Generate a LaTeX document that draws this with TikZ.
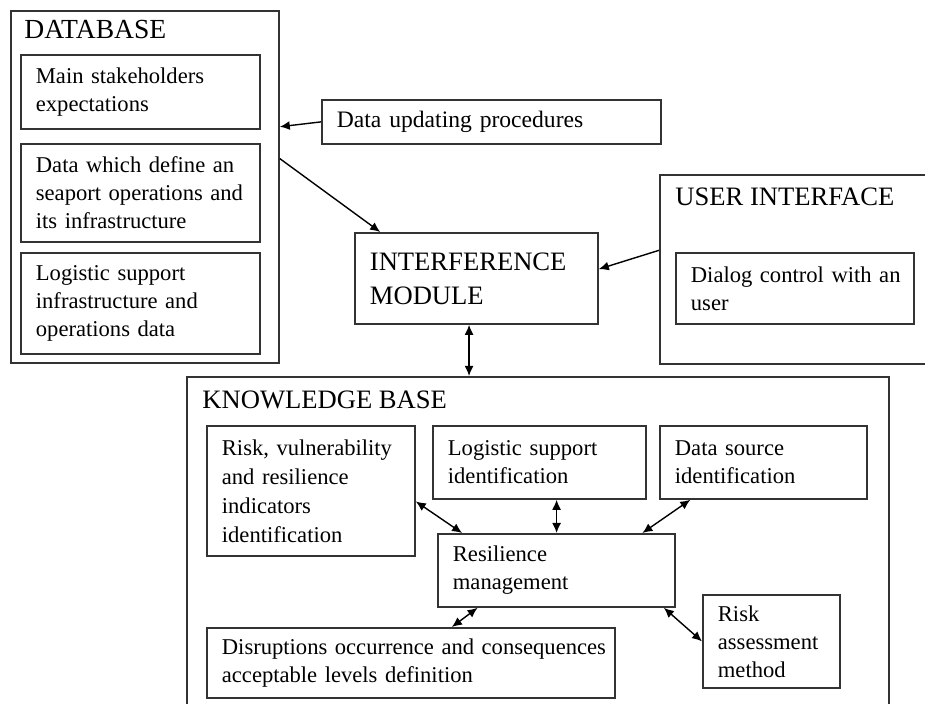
\documentclass[tikz,border=0pt]{standalone}
\usepackage{fontspec}
\setmainfont{Liberation Serif}
\usetikzlibrary{calc,arrows.meta}

\begin{document}
\begin{tikzpicture}[x=0.5pt,y=-0.5pt,>={Latex[length=5pt,width=4.5pt]},
   frame/.style={draw=black!80,line width=0.9pt,anchor=north west,inner sep=0pt},
   blk/.style={draw=black!80,line width=0.9pt,anchor=north west,align=left,
      inner xsep=7.5pt,inner ysep=0pt,font=\fontsize{11.3}{14}\selectfont,
      execute at begin node={\rightskip=-40pt plus 1fil\relax}},
   head/.style={anchor=base west,inner sep=0pt,font=\fontsize{13.3}{17}\selectfont},
   link/.style={<->,line width=0.7pt}]
\useasboundingbox (0,0) rectangle (925,704);

% database
\node[frame,minimum width=134pt,minimum height=176pt] (db) at (10,10) {};
\node[head,font=\fontsize{13.8}{17}\selectfont] (dbtitle) at (24,39) {DATABASE};
\node[blk,text width=104.5pt,minimum height=37pt] (stake) at (20,54)
   {Main stakeholders\\expectations};
\node[blk,text width=104.5pt,minimum height=49pt] (seaport) at (20,143)
   {Data which define an\\seaport operations and\\its infrastructure};
\node[blk,text width=104.5pt,minimum height=50.5pt] (logdata) at (20,252)
   {Logistic support\\infrastructure and\\operations data};

\node[blk,text width=154.5pt,minimum height=22pt,font=\fontsize{11.8}{14}\selectfont]
   (update) at (321,99) {Data updating procedures};

% interference module
\node[blk,font=\fontsize{13.3}{17}\selectfont,text width=106.5pt,minimum height=45.5pt]
   (inter) at (354,232) {INTERFERENCE\\MODULE};

% user interface
\node[frame,minimum width=145pt,minimum height=94.5pt] (ui) at (659,174) {};
\node[head] (uititle) at (675,206) {USER INTERFACE};
\node[blk,text width=104pt,minimum height=35.5pt] (dialog) at (675,252)
   {Dialog control with an\\user};

% knowledge base
\node[frame,minimum width=351pt,minimum height=170pt] (kb) at (186,376) {};
\node[head] (kbtitle) at (202,409) {KNOWLEDGE BASE};
\node[blk,text width=89pt,minimum height=65pt,
   font=\fontsize{11.3}{14.5}\selectfont] (risk) at (206,425)
   {Risk, vulnerability\\and resilience\\indicators\\identification};
\node[blk,text width=91.5pt,minimum height=36.5pt] (logid) at (432,425)
   {Logistic support\\identification};
\node[blk,text width=88.5pt,minimum height=36.5pt] (srcid) at (659,425)
   {Data source\\identification};
\node[blk,text width=103.5pt,minimum height=36.5pt] (res) at (437,533)
   {Resilience\\management};
\node[blk,text width=189pt,minimum height=35pt] (disr) at (206,627)
   {Disruptions occurrence and consequences\\acceptable levels definition};
\node[blk,text width=53.5pt,minimum height=46.5pt] (riskm) at (702,594)
   {Risk\\assessment\\method};

% connectors
\draw[->,line width=0.7pt] (update.west) -- ($(db.north east)!0.33!(db.south east)$);
\draw[->,line width=0.7pt] ($(db.north east)!0.42!(db.south east)$)
   -- ($(inter.north west)!0.107!(inter.north east)$);
\draw[->,line width=0.7pt] ($(ui.north west)!0.4!(ui.south west)$)
   -- ($(inter.north east)!0.4!(inter.south east)$);
\draw[link] ($(inter.south west)!0.47!(inter.south east)$) coordinate (ik)
   -- (ik |- kb.north);

\draw[link] ($(risk.north east)!0.58!(risk.south east)$)
   -- ($(res.north west)!0.105!(res.north east)$);
\draw[link] ($(logid.south west)!0.58!(logid.south east)$) coordinate (lr)
   -- (lr |- res.north);
\draw[link] ($(srcid.south west)!0.15!(srcid.south east)$)
   -- ($(res.north west)!0.86!(res.north east)$);
\draw[link] ($(res.south west)!0.17!(res.south east)$)
   -- ($(disr.north west)!0.6!(disr.north east)$);
\draw[link] ($(res.south west)!0.95!(res.south east)$) -- (riskm.west);
\end{tikzpicture}
\end{document}
